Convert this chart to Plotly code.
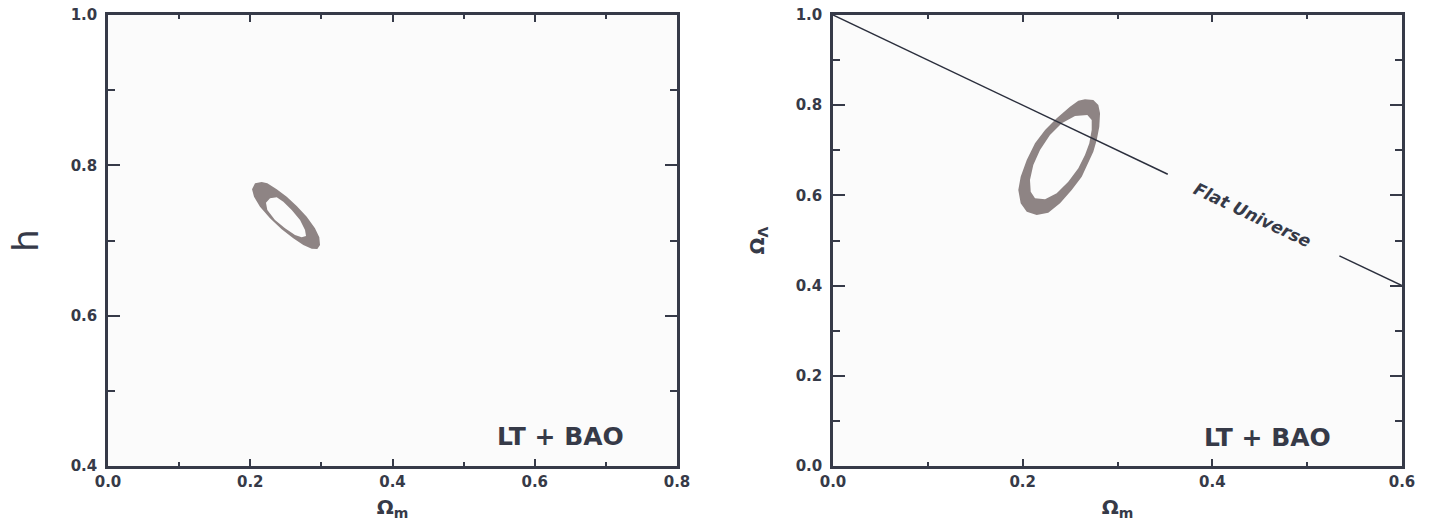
import plotly.graph_objects as go

# ---------------- data ----------------
# Left panel: LT + BAO contour in (Omega_m, h)
left_outer_x = [0.2067, 0.2161, 0.2240, 0.2372, 0.2513, 0.2653, 0.2794, 0.2910, 0.2971, 0.2981,
                0.2943, 0.2864, 0.2746, 0.2605, 0.2442, 0.2278, 0.2137, 0.2053, 0.2025]
left_outer_y = [0.7761, 0.7778, 0.7761, 0.7681, 0.7583, 0.7459, 0.7317, 0.7162, 0.7043, 0.6940,
                0.6887, 0.6891, 0.6940, 0.7029, 0.7149, 0.7295, 0.7450, 0.7583, 0.7681]
left_inner_x = [0.2221, 0.2278, 0.2372, 0.2465, 0.2583, 0.2700, 0.2770, 0.2784, 0.2723, 0.2629,
                0.2489, 0.2348, 0.2240]
left_inner_y = [0.7503, 0.7561, 0.7575, 0.7516, 0.7406, 0.7273, 0.7140, 0.7060, 0.7043, 0.7073,
                0.7162, 0.7273, 0.7406]

# Right panel: LT + BAO contour in (Omega_m, Omega_Lambda)
right_outer_x = [0.2657, 0.2745, 0.2798, 0.2816, 0.2808, 0.2781, 0.2745, 0.2692, 0.2623, 0.2517,
                 0.2394, 0.2270, 0.2148, 0.2043, 0.1979, 0.1954, 0.1979, 0.2043, 0.2130, 0.2236,
                 0.2359, 0.2499, 0.2587]
right_outer_y = [0.8131, 0.8115, 0.8004, 0.7820, 0.7524, 0.7228, 0.6969, 0.6712, 0.6415, 0.6120,
                 0.5825, 0.5617, 0.5565, 0.5639, 0.5825, 0.6120, 0.6415, 0.6785, 0.7155, 0.7450,
                 0.7710, 0.7967, 0.8100]
right_inner_x = [0.2682, 0.2728, 0.2728, 0.2703, 0.2657, 0.2587, 0.2481, 0.2359, 0.2236, 0.2130,
                 0.2085, 0.2077, 0.2112, 0.2183, 0.2288, 0.2412, 0.2552]
right_inner_y = [0.7783, 0.7672, 0.7450, 0.7155, 0.6896, 0.6601, 0.6304, 0.6047, 0.5913, 0.5936,
                 0.6082, 0.6341, 0.6674, 0.7007, 0.7339, 0.7599, 0.7761]

# Flat-universe line (Omega_Lambda = 1 - Omega_m), broken where the label sits
flat_seg1_x = [0.0, 0.353]
flat_seg1_y = [1.0, 0.647]
flat_seg2_x = [0.534, 0.6]
flat_seg2_y = [0.466, 0.4]
flat_label = "Flat Universe"
flat_label_pos = (0.4424, 0.5576)

panel_label = "LT + BAO"

# axis ticks
left_xticks = [0.0, 0.2, 0.4, 0.6, 0.8]
left_yticks = [0.4, 0.6, 0.8, 1.0]
right_xticks = [0.0, 0.2, 0.4, 0.6]
right_yticks = [0.0, 0.2, 0.4, 0.6, 0.8, 1.0]

# ---------------- styling ----------------
W, H = 1432, 523
INK = "#363a48"
RING = "#8e8484"
BG = "#fbfbfb"
FONT = "DejaVu Sans"


def ring_trace(ox, oy, ix, iy, xa, ya):
    # outer boundary + reversed inner boundary -> filled ring with a hole
    x = list(ox) + [ox[0], None] + list(reversed(ix)) + [ix[-1]]
    y = list(oy) + [oy[0], None] + list(reversed(iy)) + [iy[-1]]
    return go.Scatter(x=x, y=y, mode="lines", fill="toself", fillcolor=RING,
                      line=dict(width=0, color=RING), xaxis=xa, yaxis=ya,
                      hoverinfo="skip", showlegend=False)


fig = go.Figure()
fig.add_trace(ring_trace(left_outer_x, left_outer_y, left_inner_x, left_inner_y, "x", "y"))
fig.add_trace(ring_trace(right_outer_x, right_outer_y, right_inner_x, right_inner_y, "x2", "y2"))
for sx, sy in [(flat_seg1_x, flat_seg1_y), (flat_seg2_x, flat_seg2_y)]:
    fig.add_trace(go.Scatter(x=sx, y=sy, mode="lines", line=dict(color="#2b2f3d", width=1.5),
                             xaxis="x2", yaxis="y2", showlegend=False, hoverinfo="skip"))


def ax(domain, rng, ticks, anchor, dtick_minor, title=None, title_font=None, standoff=None):
    d = dict(domain=domain, range=rng, tickvals=ticks, ticktext=[f"{t:.1f}" for t in ticks],
             showgrid=False, zeroline=False, showline=True, linecolor=INK, linewidth=2.5,
             mirror="ticks", ticks="inside", tickcolor=INK, tickwidth=2,
             tickfont=dict(family=FONT, size=15, color=INK, weight="bold"),
             minor=dict(dtick=dtick_minor, tick0=0, ticks="inside", ticklen=4, tickwidth=2,
                        tickcolor=INK, showgrid=False),
             anchor=anchor, automargin=False, fixedrange=True)
    if title is not None:
        d["title"] = dict(text=title, font=title_font, standoff=standoff)
    return d


ydom = [(H - 466) / H, (H - 15) / H]
fig.update_layout(
    width=W, height=H, margin=dict(l=0, r=0, t=0, b=0),
    paper_bgcolor="white", plot_bgcolor=BG, showlegend=False,
    xaxis=ax([108 / W, 677 / W], [0, 0.8], left_xticks, "y", 0.1,
             "<b>Ω<sub>m</sub></b>", dict(family=FONT, size=20, color=INK), 11),
    yaxis=ax(ydom, [0.4, 1.0], left_yticks, "x", 0.1,
             "h", dict(family=FONT, size=36, color=INK), 22),
    xaxis2=ax([833 / W, 1402 / W], [0, 0.6], right_xticks, "y2", 0.1,
              "<b>Ω<sub>m</sub></b>", dict(family=FONT, size=20, color=INK), 11),
    yaxis2=ax(ydom, [0, 1.0], right_yticks, "x2", 0.1,
              "<b>Ω<sub>Λ</sub></b>", dict(family=FONT, size=20, color=INK), 26),
)
for a in ["xaxis", "xaxis2"]:
    fig.layout[a].ticklen = 7
    fig.layout[a].minor.ticklen = 4
for a in ["yaxis", "yaxis2"]:
    fig.layout[a].ticklen = 12
    fig.layout[a].minor.ticklen = 7
    fig.layout[a].ticklabelstandoff = 5

fig.add_annotation(x=0.6355, y=0.4386, xref="x", yref="y", text=f"<b>{panel_label}</b>",
                   showarrow=False, font=dict(family=FONT, size=25, color=INK))
fig.add_annotation(x=0.4577, y=0.0643, xref="x2", yref="y2", text=f"<b>{panel_label}</b>",
                   showarrow=False, font=dict(family=FONT, size=25, color=INK))
fig.add_annotation(x=flat_label_pos[0], y=flat_label_pos[1], xref="x2", yref="y2",
                   text=f"<b><i>{flat_label}</i></b>", textangle=25.4, showarrow=False,
                   font=dict(family=FONT, size=17, color=INK))

fig.write_html("out.html", config={"displayModeBar": False},
               post_script="document.body.style.margin='0';")
